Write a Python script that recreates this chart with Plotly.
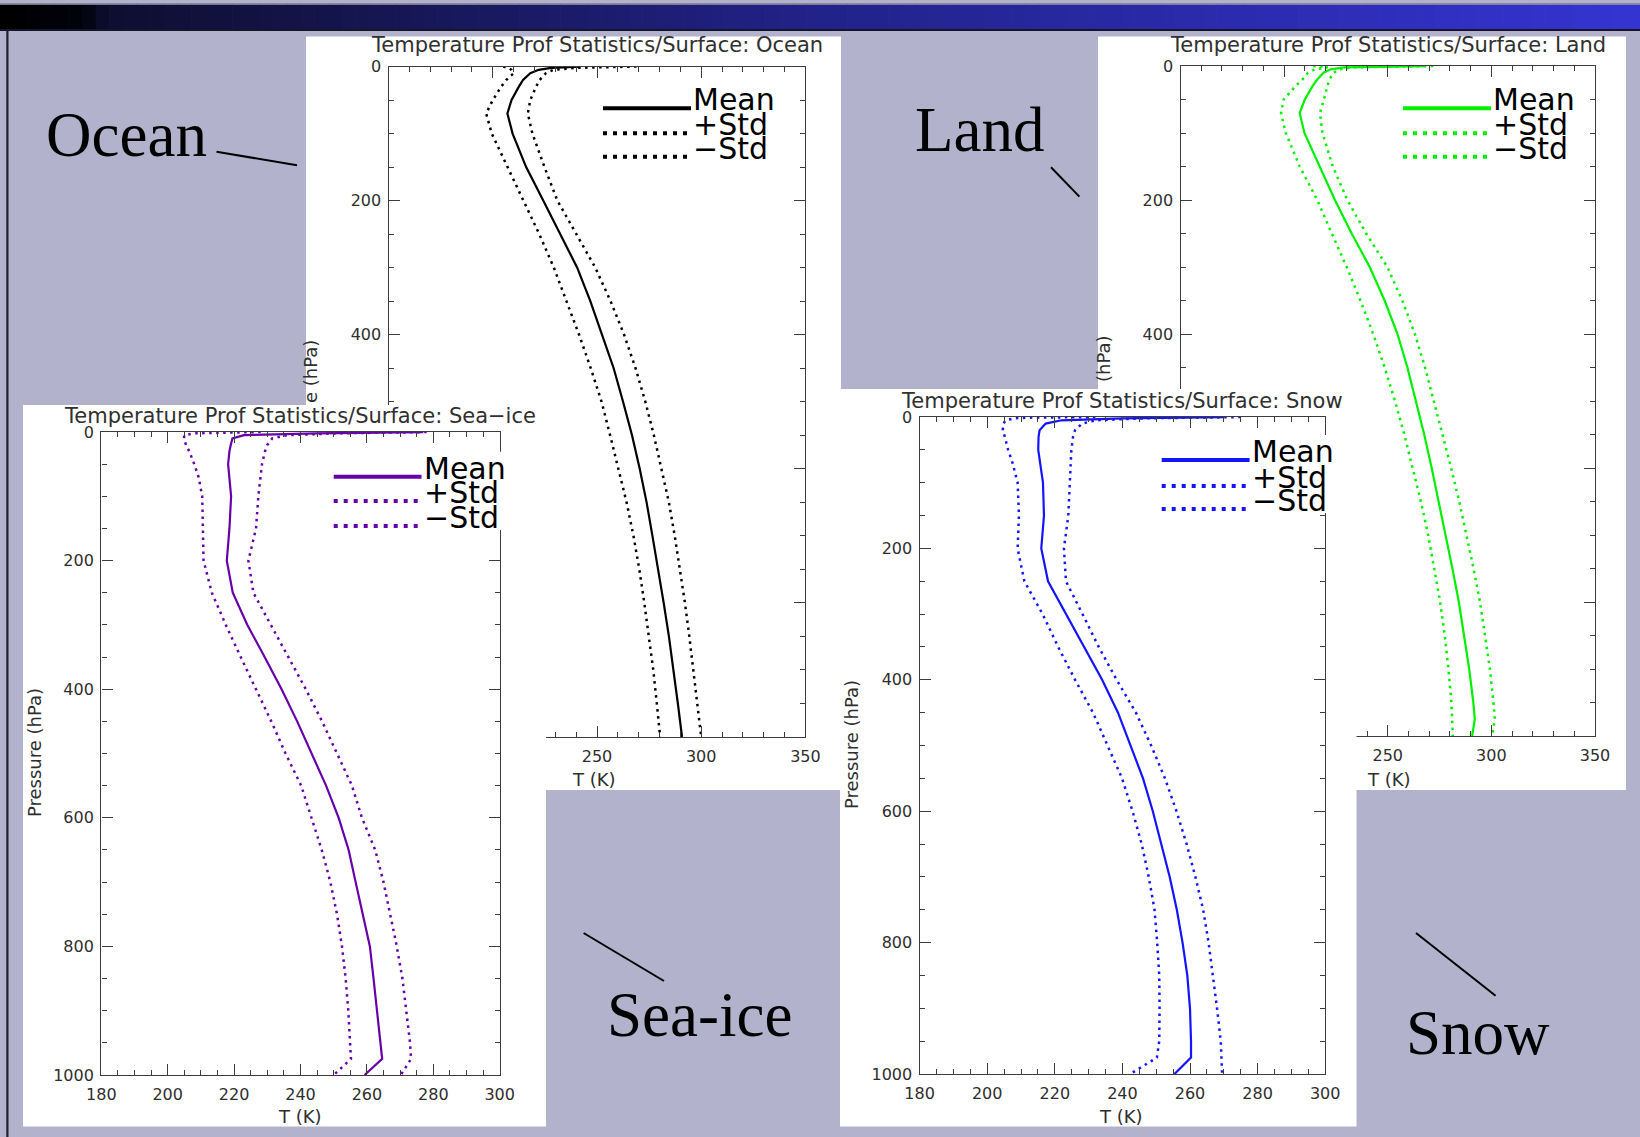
import plotly.graph_objects as go

W, H = 1640, 1137

# ---------------- data ----------------
pressure = [0.1, 0.5, 1, 2, 5, 10, 20, 30, 50, 70, 100, 150, 200, 250, 300, 350,
            400, 450, 500, 550, 600, 650, 700, 750, 800, 850, 900, 950, 975, 1000]

ocean_mean = [242, 236, 232, 228, 222, 218, 214.5, 212.5, 209, 207, 209.5, 216, 224.2, 232.2, 240.5, 246.8,
              252.5, 258, 262.5, 266.8, 270.5, 273.8, 276.6, 279.4, 282, 284.5, 286.8, 288.8, 289.8, 290.8]
ocean_plus = [269, 262, 255, 240, 229, 225.5, 222.5, 220.8, 218, 216.8, 219, 224.8, 231, 240, 249.2, 256.5,
              263, 268.5, 273.2, 277.3, 281, 284.5, 287.3, 289.8, 292.2, 294.3, 296.3, 298.2, 299.1, 300]
ocean_minus = [205, 206, 206.5, 207.5, 209, 210, 206.5, 204, 200, 196.8, 199.5, 207, 214.8, 222.3, 229.3, 235.5,
               241.4, 247, 252.2, 256.3, 260.3, 264.2, 267.5, 270.3, 272.7, 275, 277, 278.7, 279.5, 280.3]

land_mean = [268, 255, 245, 229, 222.5, 219, 216, 213.7, 210, 207.5, 209.8, 217, 224.5, 232.6, 241.3, 248.5,
             254.7, 259.5, 263.7, 267.6, 271.2, 274.6, 278, 281.2, 284.3, 286.8, 289.3, 291.3, 292, 290.7]
land_plus = [272, 262, 250, 233, 226.5, 224, 221.8, 221, 219.2, 217.3, 218.5, 223.5, 230.5, 239.6, 249.8, 257,
             263.1, 268, 272.2, 276.5, 280.6, 284.5, 288, 291.4, 294.5, 297, 299.3, 301, 301.7, 300.3]
land_minus = [214, 218, 220, 221, 215, 211.5, 208.9, 205.5, 199.8, 198.5, 200.8, 207.5, 216, 223, 230.2, 236.8,
              243, 248.5, 253.5, 258, 262, 266, 269.5, 272.5, 275.3, 277.5, 279.3, 280.7, 281.2, 281.4]

seaice_mean = [277, 270, 262, 245, 223, 219.5, 219, 218.6, 218.2, 218.6, 219.1, 218.6, 217.8, 219.6, 224, 229.2,
               234.3, 239, 243.3, 247.7, 251.5, 254.5, 256.6, 258.8, 260.9, 262, 263, 264, 264.6, 259.3]
seaice_plus = [278, 272, 265, 252, 236, 231.5, 230, 229.3, 228.4, 227.9, 227.3, 226.6, 224.3, 225.8, 231, 236.3,
               241.6, 246.5, 251, 255.5, 258.5, 262.5, 265, 267.1, 269, 270.7, 271.8, 273, 273.3, 270.2]
seaice_minus = [228, 220, 214, 208, 205, 204.9, 205.5, 206.5, 208, 209.3, 210.4, 210.6, 210.8, 213.3, 217.5, 222,
                226.6, 231.2, 235.5, 240.2, 243.3, 246.4, 249, 251, 252.5, 253.6, 254.4, 255, 255.2, 250]

snow_mean = [270, 262, 255, 240, 222, 217.3, 215.5, 215.2, 215.1, 215.7, 216.5, 216.8, 216, 218, 223.3, 228.8,
             234, 238.7, 242.3, 246.1, 249, 251.6, 254, 256.1, 257.8, 259.2, 260, 260.3, 260.3, 255.4]
snow_plus = [275, 266, 258, 247, 232, 228.1, 226, 225.4, 224.9, 224.7, 224.6, 224, 222.7, 223.3, 228.2, 233,
             238.3, 244, 248.5, 252.6, 256, 259, 261.6, 263.9, 265.5, 266.8, 268, 269.1, 269.3, 269.5]
snow_minus = [232, 218, 212, 208, 205.5, 204.8, 204.6, 205.2, 206.2, 207.5, 209, 209.4, 209, 211, 216.4, 221,
              226, 231.3, 235.5, 239.9, 243, 245.7, 247.8, 249.5, 250.3, 250.9, 251, 250.9, 250.2, 242.3]

series_names = ["Mean", "+Std", "\u2212Std"]
surfaces = ["Ocean", "Land", "Sea\u2212ice", "Snow"]
title_text = "Temperature Prof Statistics/Surface: "
x_title = "T (K)"
y_title = "Pressure (hPa)"

# ---------------- styling / layout positions (pixels) ----------------
BG = "#B2B2CC"
colors = ["#000000", "#00F000", "#6600AA", "#1414FF"]
data_sets = [
    (ocean_mean, ocean_plus, ocean_minus),
    (land_mean, land_plus, land_minus),
    (seaice_mean, seaice_plus, seaice_minus),
    (snow_mean, snow_plus, snow_minus),
]
xranges = [(150, 350, 50, 10), (150, 350, 50, 10), (180, 300, 20, 5), (180, 300, 20, 5)]
panel_box = [(306, 36.5, 841, 790), (1098, 36.5, 1626, 790),
             (23, 405, 546, 1126.5), (840, 389, 1356.5, 1126.5)]
plot_box = [(388.6, 66.5, 805.4, 737), (1180.5, 66.0, 1595, 736),
            (101.3, 432, 499.7, 1075), (919.6, 417, 1325.2, 1074)]
title_pos = [(597, 45), (1388, 45), (300, 416), (1122, 401)]
legend_pos = [  # line x0, line x1, line y for the three entries
    (603, 691, [108.3, 133.3, 156.7]),
    (1403, 1491, [108.3, 133.3, 156.7]),
    (333.7, 421.5, [476.7, 501, 526]),
    (1161.7, 1249.6, [460, 486, 509]),
]


def fx(px):
    return px / W


def fy(py):
    return 1 - py / H


def sid(n):
    return "" if n == 1 else str(n)


fig = go.Figure()
layout_axes = {}
annotations = []
shapes = []

# top title bar (gradient imitation)
stops = [(0.0, (0, 0, 0)), (0.05, (2, 2, 12)), (0.065, (14, 14, 48)), (0.5, (34, 34, 138)), (1.0, (52, 52, 210))]


def grad(t):
    for (t0, c0), (t1, c1) in zip(stops[:-1], stops[1:]):
        if t0 <= t <= t1:
            f = (t - t0) / (t1 - t0) if t1 > t0 else 0
            return "rgb(%d,%d,%d)" % tuple(round(a + (b - a) * f) for a, b in zip(c0, c1))
    return "rgb(52,52,210)"


N = 120
for i in range(N):
    x0 = W * i / N
    x1 = W * (i + 1) / N + 0.6
    shapes.append(dict(type="rect", xref="paper", yref="paper", x0=fx(x0), x1=fx(x1), y0=fy(29), y1=fy(4.5),
                       fillcolor=grad((i + 0.5) / N), line=dict(width=0), layer="below"))
shapes.append(dict(type="rect", xref="paper", yref="paper", x0=0, x1=1, y0=fy(4.5), y1=fy(3),
                   fillcolor="#8a8a9a", line=dict(width=0), layer="below"))
shapes.append(dict(type="rect", xref="paper", yref="paper", x0=0, x1=1, y0=fy(31), y1=fy(29),
                   fillcolor="#15152a", line=dict(width=0), layer="below"))
shapes.append(dict(type="rect", xref="paper", yref="paper", x0=fx(6.3), x1=fx(8.5), y0=0, y1=fy(30),
                   fillcolor="#202030", line=dict(width=0), layer="below"))

for k in range(4):
    pan, plt = 2 * k + 1, 2 * k + 2
    bx0, by0, bx1, by1 = panel_box[k]
    hidden = dict(showgrid=False, zeroline=False, showline=False, ticks="", showticklabels=False,
                  fixedrange=True, range=[0, 1], automargin=False)
    layout_axes["xaxis" + sid(pan)] = dict(hidden, domain=[fx(bx0), fx(bx1)], anchor="y" + sid(pan))
    layout_axes["yaxis" + sid(pan)] = dict(hidden, domain=[fy(by1), fy(by0)], anchor="x" + sid(pan))
    # empty trace so that the white panel (its own subplot background) is created
    fig.add_trace(go.Scatter(x=[None], y=[None], mode="markers", xaxis="x" + sid(pan), yaxis="y" + sid(pan),
                             showlegend=False, hoverinfo="skip"))

    qx0, qy0, qx1, qy1 = plot_box[k]
    xmin, xmax, xd, xm = xranges[k]
    common = dict(showgrid=False, zeroline=False, showline=True, linecolor="#3c3c3c", linewidth=1.4,
                  mirror="ticks", ticks="inside", ticklen=11, tickwidth=1.2, tickcolor="#3c3c3c",
                  tickfont=dict(family="DejaVu Sans", size=16, color="#2e2e2e"), fixedrange=True,
                  automargin=False)
    layout_axes["xaxis" + sid(plt)] = dict(common, domain=[fx(qx0), fx(qx1)], anchor="y" + sid(plt),
                                          range=[xmin, xmax], tick0=xmin, dtick=xd, ticklabelstandoff=5,
                                          minor=dict(dtick=xm, tick0=xmin, ticks="inside", ticklen=5,
                                                     tickcolor="#3c3c3c", tickwidth=1.1, showgrid=False))
    layout_axes["yaxis" + sid(plt)] = dict(common, domain=[fy(qy1), fy(qy0)], anchor="x" + sid(plt),
                                          range=[1000, 0], tick0=0, dtick=200, ticklabelstandoff=3,
                                          minor=dict(dtick=50, tick0=0, ticks="inside", ticklen=5,
                                                     tickcolor="#3c3c3c", tickwidth=1.1, showgrid=False))
    mean, plus, minus = data_sets[k]
    c = colors[k]
    for vals, dash, w in ((mean, "solid", 2.2), (plus, "2.5px,4.5px", 2.5), (minus, "2.5px,4.5px", 2.5)):
        fig.add_trace(go.Scatter(x=vals, y=pressure, mode="lines", line=dict(color=c, width=w, dash=dash),
                                 xaxis="x" + sid(plt), yaxis="y" + sid(plt), showlegend=False,
                                 hoverinfo="skip"))
    # panel title
    tx, ty = title_pos[k]
    annotations.append(dict(text=title_text + surfaces[k], x=fx(tx), y=fy(ty), xref="paper", yref="paper",
                            showarrow=False, xanchor="center", yanchor="middle", borderpad=0,
                            font=dict(family="DejaVu Sans", size=21, color="#303030")))
    # legend
    lx0, lx1, lys = legend_pos[k]
    shapes.append(dict(type="rect", xref="paper", yref="paper", x0=fx(lx1 + 1), x1=fx(lx1 + 88),
                       y0=fy(lys[2] + 4), y1=fy(lys[0] - 25), fillcolor="white", line=dict(width=0),
                       layer="above"))
    for j, name in enumerate(series_names):
        shapes.append(dict(type="line", xref="paper", yref="paper", x0=fx(lx0), x1=fx(lx1),
                           y0=fy(lys[j]), y1=fy(lys[j]), layer="above",
                           line=dict(color=c, width=4, dash="solid" if j == 0 else "4px,6px")))
        annotations.append(dict(text=name, x=fx(lx1 + 1), y=fy(lys[j] - 8.4), xref="paper", yref="paper",
                                showarrow=False, xanchor="left", yanchor="middle", borderpad=0,
                                font=dict(family="DejaVu Sans", size=30, color="black")))

# axis titles (x)
for (ax_x, ax_y) in [(594, 779), (1389, 779), (300, 1116), (1121, 1116.5)]:
    annotations.append(dict(text=x_title, x=fx(ax_x), y=fy(ax_y), xref="paper", yref="paper", showarrow=False,
                            xanchor="center", yanchor="middle", borderpad=0,
                            font=dict(family="DejaVu Sans", size=18, color="#2e2e2e")))
# axis titles (y) -- full ones for the front panels, visible fragments for the covered ones
for (txt, ax_x, ax_y) in [(y_title, 34, 753), (y_title, 851, 745), ("e (hPa)", 311, 372), ("(hPa)", 1103, 359)]:
    annotations.append(dict(text=txt, x=fx(ax_x), y=fy(ax_y), xref="paper", yref="paper", showarrow=False,
                            xanchor="center", yanchor="middle", textangle=-90, borderpad=0,
                            font=dict(family="DejaVu Sans", size=18, color="#2e2e2e")))

# big slide labels and leader lines
for (txt, lx, ly) in [("Ocean", 44, 135), ("Land", 913, 130), ("Sea-ice", 604.5, 1015), ("Snow", 1403.6, 1033)]:
    annotations.append(dict(text=txt, x=fx(lx), y=fy(ly), xref="paper", yref="paper", showarrow=False,
                            xanchor="left", yanchor="middle",
                            font=dict(family="Liberation Serif", size=63, color="black")))
for (x0, y0, x1, y1) in [(216.5, 151.7, 297, 165.3), (1051, 167.3, 1079.4, 196.6),
                         (583.6, 933, 664, 981), (1416, 933, 1495.6, 995.7)]:
    shapes.append(dict(type="line", xref="paper", yref="paper", x0=fx(x0), y0=fy(y0), x1=fx(x1), y1=fy(y1),
                       line=dict(color="black", width=2), layer="below"))

fig.update_layout(
    width=W, height=H, autosize=False,
    margin=dict(l=0, r=0, t=0, b=0, pad=0, autoexpand=False),
    paper_bgcolor=BG, plot_bgcolor="white",
    font=dict(family="DejaVu Sans"),
    showlegend=False, annotations=annotations, shapes=shapes,
    **layout_axes,
)
fig.write_html("out.html",
               post_script="document.body.style.margin='0';document.body.style.overflow='hidden';")
